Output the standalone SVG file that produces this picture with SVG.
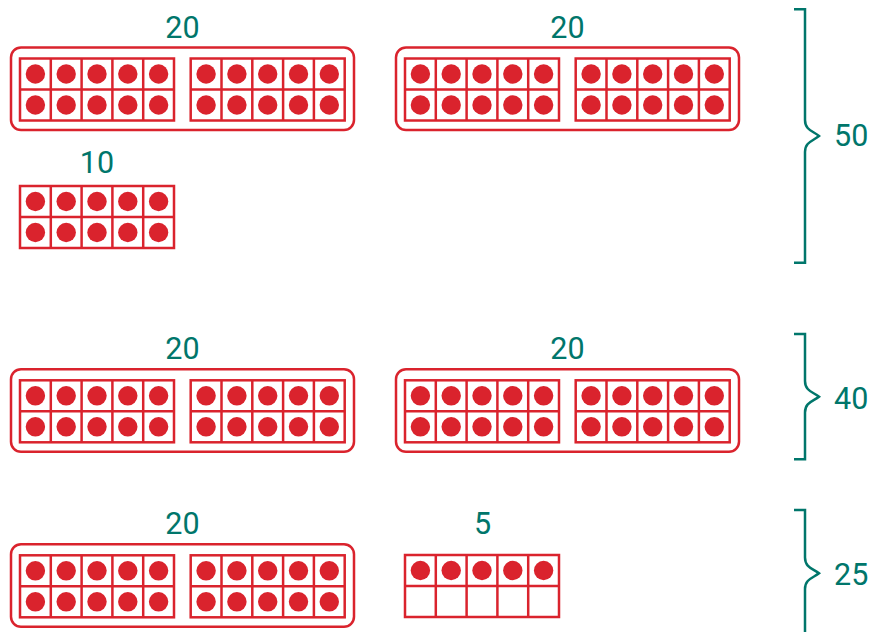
<svg xmlns="http://www.w3.org/2000/svg" xmlns:xlink="http://www.w3.org/1999/xlink" width="872" height="632" viewBox="0 0 872 632">
<style>
.box{fill:none;stroke:#da232d;stroke-width:2.5}
.grid{fill:#fff;stroke:#da232d;stroke-width:2.5}
.ln{stroke:#da232d;stroke-width:2.5}
.dot{fill:#da232d}
.lbl{font-family:Roboto,"Liberation Sans",sans-serif;font-size:30.5px;fill:#00766b;text-anchor:middle}
.sum{font-family:Roboto,"Liberation Sans",sans-serif;font-size:30.5px;fill:#00766b}
.brace{fill:none;stroke:#00766b;stroke-width:2.5}
</style>
<defs>
<g id="frame5">
<rect class="grid" x="0" y="0" width="154" height="62"/>
<line class="ln" x1="30.8" y1="0" x2="30.8" y2="62"/>
<line class="ln" x1="61.6" y1="0" x2="61.6" y2="62"/>
<line class="ln" x1="92.4" y1="0" x2="92.4" y2="62"/>
<line class="ln" x1="123.2" y1="0" x2="123.2" y2="62"/>
<line class="ln" x1="0" y1="31" x2="154" y2="31"/>
<circle class="dot" cx="15.4" cy="15.5" r="9.7"/>
<circle class="dot" cx="46.2" cy="15.5" r="9.7"/>
<circle class="dot" cx="77" cy="15.5" r="9.7"/>
<circle class="dot" cx="107.8" cy="15.5" r="9.7"/>
<circle class="dot" cx="138.6" cy="15.5" r="9.7"/>
</g>
<g id="frame10">
<use xlink:href="#frame5" href="#frame5"/>
<circle class="dot" cx="15.4" cy="46.5" r="9.7"/>
<circle class="dot" cx="46.2" cy="46.5" r="9.7"/>
<circle class="dot" cx="77" cy="46.5" r="9.7"/>
<circle class="dot" cx="107.8" cy="46.5" r="9.7"/>
<circle class="dot" cx="138.6" cy="46.5" r="9.7"/>
</g>
<g id="twenty">
<rect class="box" x="0" y="0" width="343" height="82.5" rx="10"/>
<use xlink:href="#frame10" href="#frame10" x="9" y="11"/>
<use xlink:href="#frame10" href="#frame10" x="179.7" y="11"/>
</g>
</defs>
<rect width="872" height="632" fill="#fff"/>

<g id="r1g1">
<text class="lbl" x="182.5" y="38.3">20</text>
<use xlink:href="#twenty" href="#twenty" x="11" y="47.5"/>
</g>
<g id="r1g2">
<text class="lbl" x="567.5" y="38.3">20</text>
<use xlink:href="#twenty" href="#twenty" x="396" y="47.5"/>
</g>
<g id="r1g3">
<text class="lbl" x="97" y="173.3">10</text>
<use xlink:href="#frame10" href="#frame10" x="20" y="186"/>
</g>

<g id="r2g1">
<text class="lbl" x="182.5" y="359.3">20</text>
<use xlink:href="#twenty" href="#twenty" x="11" y="369.3"/>
</g>
<g id="r2g2">
<text class="lbl" x="567.5" y="359.3">20</text>
<use xlink:href="#twenty" href="#twenty" x="396" y="369.3"/>
</g>

<g id="r3g1">
<text class="lbl" x="182.5" y="534.3">20</text>
<use xlink:href="#twenty" href="#twenty" x="11" y="544.3"/>
</g>
<g id="r3g2">
<text class="lbl" x="482.5" y="534.3">5</text>
<use xlink:href="#frame5" href="#frame5" x="405" y="555"/>
</g>

<g id="brace50">
<path class="brace" d="M794,9.3 H805 V120 C805,130 813,131 819,136 C813,141 805,142 805,152 V262.7 H794"/>
<text class="sum" x="834" y="145.5">50</text>
</g>
<g id="brace40">
<path class="brace" d="M794,334 H805 V381 C805,391 813,392 819,396.7 C813,401.4 805,402.4 805,412.4 V459.3 H794"/>
<text class="sum" x="834" y="409.3">40</text>
</g>
<g id="brace25">
<path class="brace" d="M794,510 H805 V557.6 C805,567.6 813,568.6 819,573.3 C813,578 805,579 805,589 V640"/>
<text class="sum" x="834" y="585">25</text>
</g>
</svg>
